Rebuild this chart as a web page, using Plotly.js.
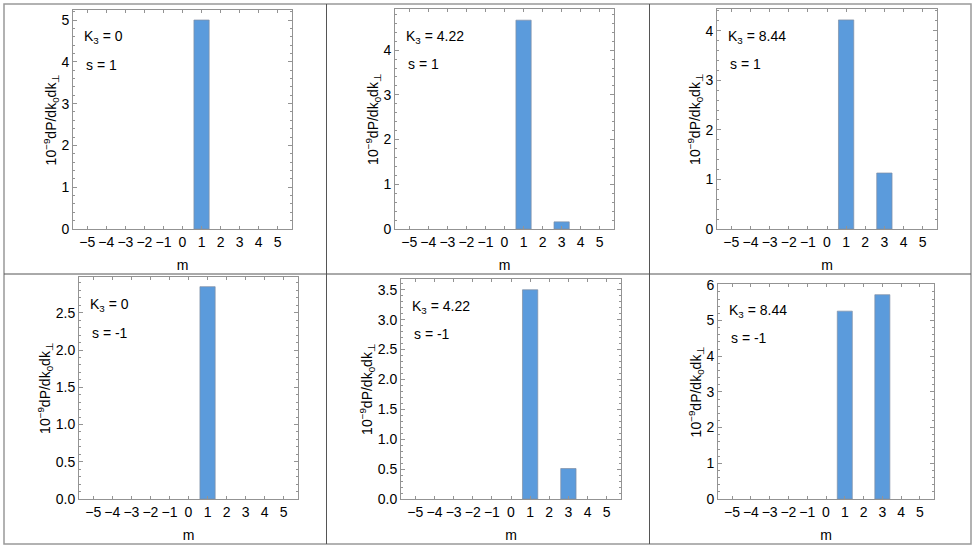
<!DOCTYPE html>
<html>
<head>
<meta charset="utf-8">
<script src="https://cdn.plot.ly/plotly-3.0.1.min.js"></script>
<style>body{margin:0;background:#fff}#chart{width:976px;height:549px}</style>
</head>
<body>
<div id="chart"></div>
<script>
// m values on the x axis
const m = [-5, -4, -3, -2, -1, 0, 1, 2, 3, 4, 5];

// 10^-9 dP/dk0dk_perp for each panel (top row s = 1, bottom row s = -1)
const k0_s1    = [0, 0, 0, 0, 0, 0, 5.00, 0, 0,    0, 0];
const k422_s1  = [0, 0, 0, 0, 0, 0, 4.67, 0, 0.16, 0, 0];
const k844_s1  = [0, 0, 0, 0, 0, 0, 4.22, 0, 1.13, 0, 0];
const k0_sm1   = [0, 0, 0, 0, 0, 0, 2.85, 0, 0,    0, 0];
const k422_sm1 = [0, 0, 0, 0, 0, 0, 3.50, 0, 0.51, 0, 0];
const k844_sm1 = [0, 0, 0, 0, 0, 0, 5.26, 0, 5.72, 0, 0];

const kLabels = ["0", "4.22", "8.44", "0", "4.22", "8.44"];
const sLabels = ["1", "1", "1", "-1", "-1", "-1"];

const series = [k0_s1, k422_s1, k844_s1, k0_sm1, k422_sm1, k844_sm1];

const W = 976, H = 549;
const FONT = "Liberation Sans, Arial, sans-serif";
const BAR = "#5b9bdc";
const EDGE = "#7f8ea3";
const FRAME = "#939393";

// plot frames in px: [left, right, top, bottom]
const boxes = [
  [73, 292, 10, 229], [395, 614, 9, 229], [717, 937, 9, 229],
  [79, 298, 277, 499], [401, 621, 279, 499], [718, 934, 284, 499],
];
const yTop = [5.24, 4.92, 4.44, 2.98, 3.68, 6.02];
const yStep = [1, 1, 1, 0.5, 0.5, 1];

const sfx = (i) => (i ? String(i + 1) : "");

const traces = series.map((vals, i) => ({
  type: "bar",
  x: m,
  y: vals,
  width: 0.8,
  xaxis: "x" + sfx(i),
  yaxis: "y" + sfx(i),
  marker: {
    color: BAR,
    // no outline on empty bars, as in the reference
    line: { color: EDGE, width: vals.map((v) => (v > 0 ? 0.7 : 0)) },
  },
  hoverinfo: "skip",
  showlegend: false,
}));

const layout = {
  width: W,
  height: H,
  margin: { l: 0, r: 0, t: 0, b: 0 },
  paper_bgcolor: "#fff",
  plot_bgcolor: "#fff",
  font: { family: FONT, size: 14, color: "#000" },
  bargap: 0,
  annotations: [],
  shapes: [],
};

boxes.forEach((b, i) => {
  const s = sfx(i);
  layout["xaxis" + s] = {
    domain: [b[0] / W, b[1] / W],
    anchor: "y" + s,
    range: [-5.75, 5.75],
    tickmode: "linear",
    tick0: 0,
    dtick: 1,
    ticks: "inside",
    ticklen: 3,
    tickcolor: FRAME,
    showline: true,
    linecolor: FRAME,
    linewidth: 1,
    mirror: "allticks",
    showgrid: false,
    zeroline: false,
    fixedrange: true,
    tickfont: { size: 14 },
    title: { text: "m", font: { size: 14 }, standoff: 11 },
  };
  layout["yaxis" + s] = {
    domain: [1 - b[3] / H, 1 - b[2] / H],
    anchor: "x" + s,
    range: [0, yTop[i]],
    tickmode: "linear",
    tick0: 0,
    dtick: yStep[i],
    tickformat: yStep[i] < 1 ? ".1f" : "d",
    ticks: "inside",
    ticklen: 4,
    tickcolor: FRAME,
    minor: { dtick: yStep[i] / 5, ticks: "inside", ticklen: 2, tickcolor: FRAME },
    showline: true,
    linecolor: FRAME,
    linewidth: 1,
    mirror: "allticks",
    showgrid: false,
    zeroline: false,
    fixedrange: true,
    tickfont: { size: 14 },
    title: {
      text: "10<sup>\u22129</sup>dP/dk<sub>0</sub>dk<sub>\u22a5</sub>",
      font: { size: 14 },
      standoff: 1,
    },
  };
  layout.annotations.push(
    {
      xref: "x" + s + " domain", yref: "y" + s + " domain",
      x: 0.04, y: 0.875, xanchor: "left", yanchor: "middle",
      text: "K<sub>3</sub> = " + kLabels[i], showarrow: false,
      font: { size: 14 },
    },
    {
      xref: "x" + s + " domain", yref: "y" + s + " domain",
      x: 0.05, y: 0.75, xanchor: "left", yanchor: "middle",
      text: "s = " + sLabels[i], showarrow: false,
      font: { size: 14 },
    }
  );
});

// cell grid around the panels
const px = (v) => v / W;
const py = (v) => 1 - v / H;
layout.shapes.push(
  { type: "rect", xref: "paper", yref: "paper", x0: px(4), x1: px(971), y0: py(4), y1: py(544),
    line: { color: "#999", width: 1.5 } },
  { type: "line", xref: "paper", yref: "paper", x0: px(326.5), x1: px(326.5), y0: py(4), y1: py(544),
    line: { color: "#555", width: 1 } },
  { type: "line", xref: "paper", yref: "paper", x0: px(649.5), x1: px(649.5), y0: py(4), y1: py(544),
    line: { color: "#555", width: 1 } },
  { type: "line", xref: "paper", yref: "paper", x0: px(4), x1: px(971), y0: py(274), y1: py(274),
    line: { color: "#555", width: 1 } }
);

Plotly.newPlot("chart", traces, layout, { displayModeBar: false, staticPlot: true });
</script>
</body>
</html>
